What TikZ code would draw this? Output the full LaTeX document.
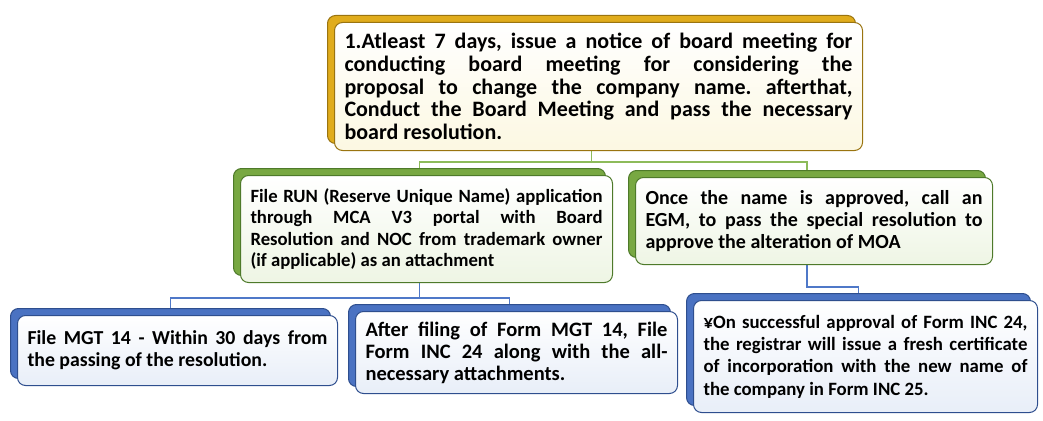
\documentclass[tikz,border=0pt]{standalone}
\usepackage{fontspec}
\setmainfont{Carlito}
\usetikzlibrary{shadows,backgrounds}
\definecolor{goldback}{HTML}{E0AC1C}
\definecolor{goldedge}{HTML}{9A7410}
\definecolor{goldfill}{HTML}{FCF8E2}
\definecolor{greenback}{HTML}{78A842}
\definecolor{greenedge}{HTML}{4E7A2A}
\definecolor{greenfill}{HTML}{EEF5E4}
\definecolor{blueback}{HTML}{4A72C2}
\definecolor{blueedge}{HTML}{2E4E8E}
\definecolor{bluefill}{HTML}{E8EEF8}
\definecolor{gline}{HTML}{8DBB5A}
\definecolor{bline}{HTML}{4F78C8}
\newcommand{\fs}[2]{\bfseries\fontsize{#1}{#2}\selectfont}
\tikzset{
  x=1pt, y=-1pt,
  box/.style={rounded corners=8pt, line width=1pt, inner xsep=10pt, inner ysep=3pt,
    align=justify, anchor=north west, text=black,
    execute at begin node={\frenchspacing\hyphenpenalty=10000\tolerance=10000\pretolerance=-1}},
  goldbox/.style={box, draw=goldedge, top color=white, bottom color=goldfill,
    general shadow={shadow xshift=-7pt, shadow yshift=7pt, fill=goldback, draw=goldedge, line width=1pt}},
  greenbox/.style={box, draw=greenedge, top color=white, bottom color=greenfill,
    general shadow={shadow xshift=-7pt, shadow yshift=7pt, fill=greenback, draw=greenedge, line width=1pt}},
  bluebox/.style={box, draw=blueedge, top color=white, bottom color=bluefill,
    general shadow={shadow xshift=-7pt, shadow yshift=7pt, fill=blueback, draw=blueedge, line width=1pt}},
  gconn/.style={draw=gline, line width=1.6pt},
  bconn/.style={draw=bline, line width=1.6pt},
}
\begin{document}
\begin{tikzpicture}
\useasboundingbox (0,0) rectangle (1043,420);
\node[goldbox, text width=508pt, minimum width=528pt, minimum height=128pt,
  font=\fs{22}{22.8}] (top) at (334,22)
  {1.Atleast 7 days, issue a notice of board meeting for\linebreak conducting board meeting for considering the\linebreak proposal to change the company name. afterthat,\linebreak Conduct the Board Meeting and pass the necessary\linebreak board resolution.};
\node[greenbox, text width=352pt, minimum width=372pt, minimum height=107pt,
  font=\fs{18.7}{21.3}] (midL) at (240,175)
  {File RUN (Reserve Unique Name) application\linebreak through MCA V3 portal with Board\linebreak Resolution and NOC from trademark owner\linebreak (if applicable) as an attachment};
\node[greenbox, text width=337pt, minimum width=357pt, minimum height=87pt,
  font=\fs{20}{22}] (midR) at (635,177)
  {Once the name is approved, call an\linebreak EGM, to pass the special resolution to\linebreak approve the alteration of MOA};
\node[bluebox, text width=300pt, minimum width=320pt, minimum height=70pt,
  font=\fs{19.8}{22}] (botL) at (17,315)
  {File MGT 14 - Within 30 days from\linebreak the passing of the resolution.};
\node[bluebox, text width=302pt, minimum width=322pt, minimum height=82pt,
  font=\fs{20.5}{22}] (botM) at (355,311)
  {After filing of Form MGT 14, File\linebreak Form INC 24 along with the all-\linebreak necessary attachments.};
\node[bluebox, text width=324pt, minimum width=344pt, minimum height=112pt,
  font=\fs{18.8}{22.3}] (botR) at (693,300)
  {¥On successful approval of Form INC 24,\linebreak the registrar will issue a fresh certificate\linebreak of incorporation with the new name of\linebreak the company in Form INC 25.};
\begin{scope}[on background layer]
\draw[gconn] ([xshift=-7pt]top.south) -- ++(0,11) coordinate (gj) -| ([xshift=-7pt]midL.north);
\draw[gconn] (gj) -| ([xshift=-7pt]midR.north);
\draw[bconn] ([xshift=-7pt]midL.south) -- ++(0,15) coordinate (bj) -| ([xshift=-7pt]botL.north);
\draw[bconn] (bj) -| ([xshift=-7pt]botM.north);
\draw[bconn] ([xshift=-7pt]midR.south) -- ++(0,22) -| ([xshift=-7pt]botR.north);
\end{scope}
\end{tikzpicture}
\end{document}
